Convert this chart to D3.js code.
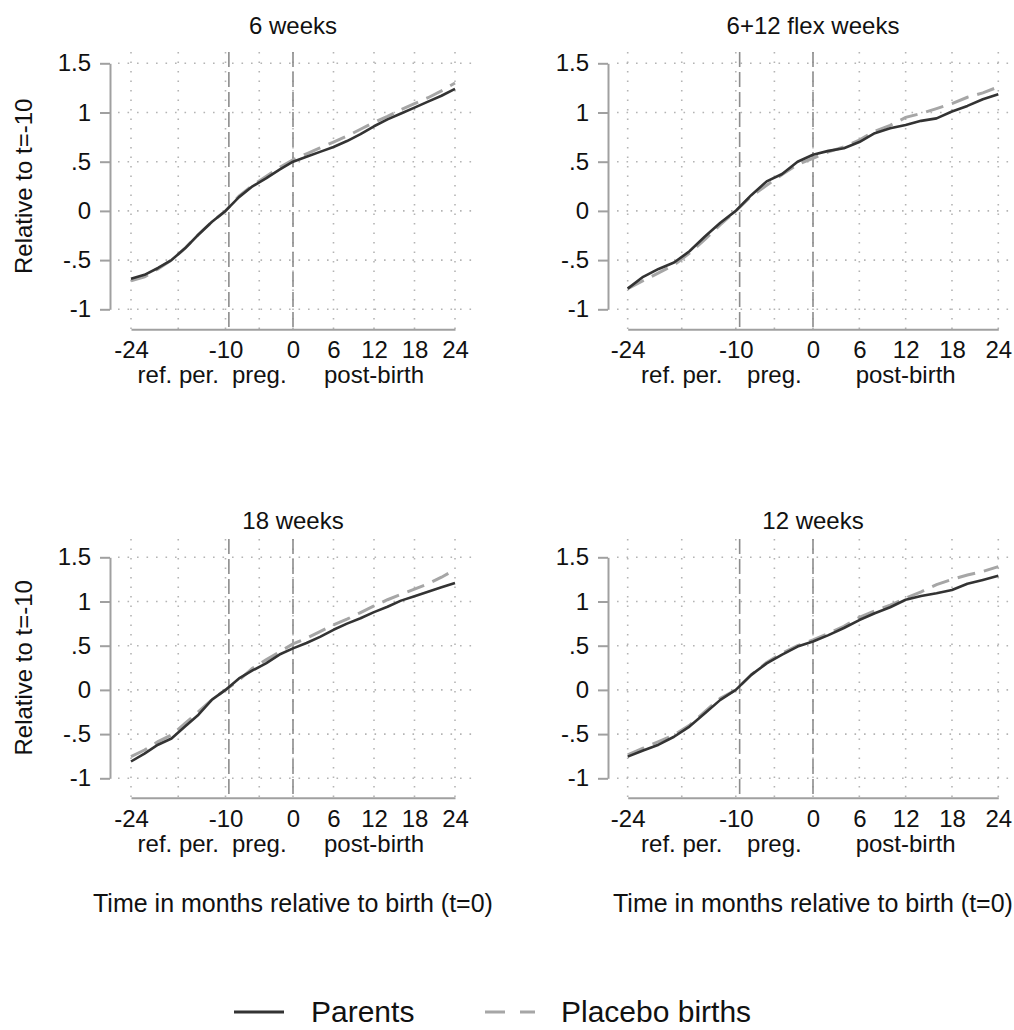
<!DOCTYPE html>
<html>
<head>
<meta charset="utf-8">
<script src="https://cdn.jsdelivr.net/npm/d3@7"></script>
<style>
  body { margin: 0; background: #fff; }
  svg { display: block; font-family: "Liberation Sans", Arial, sans-serif; }
</style>
</head>
<body>
<svg id="chart" width="1014" height="1030"></svg>
<script>
var months = [-24, -22, -20, -18, -16, -14, -12, -10, -8, -6, -4, -2, 0, 2, 4, 6, 8, 10, 12, 14, 16, 18, 20, 22, 24];

var titles = ["6 weeks", "6+12 flex weeks", "18 weeks", "12 weeks"];

// solid dark line
var parents6 = [-0.69, -0.65, -0.58, -0.50, -0.38, -0.24, -0.11, 0, 0.14, 0.25, 0.33, 0.42, 0.50, 0.55, 0.60, 0.65, 0.71, 0.78, 0.86, 0.93, 0.99, 1.05, 1.11, 1.17, 1.24];
var parentsFlex = [-0.79, -0.67, -0.59, -0.525, -0.41, -0.26, -0.12, 0, 0.16, 0.30, 0.375, 0.50, 0.57, 0.61, 0.637, 0.70, 0.79, 0.84, 0.874, 0.915, 0.94, 1.01, 1.067, 1.135, 1.186];
var parents18 = [-0.81, -0.72, -0.62, -0.55, -0.415, -0.28, -0.11, 0, 0.13, 0.22, 0.30, 0.40, 0.47, 0.53, 0.60, 0.68, 0.75, 0.81, 0.88, 0.94, 1.01, 1.06, 1.11, 1.16, 1.21];
var parents12 = [-0.755, -0.686, -0.62, -0.53, -0.415, -0.264, -0.113, 0, 0.17, 0.30, 0.40, 0.49, 0.547, 0.62, 0.70, 0.79, 0.867, 0.935, 1.02, 1.063, 1.094, 1.13, 1.20, 1.244, 1.29];

// dashed light line
var placebo6 = [-0.71, -0.67, -0.59, -0.50, -0.38, -0.24, -0.11, 0, 0.15, 0.26, 0.35, 0.44, 0.52, 0.58, 0.64, 0.70, 0.76, 0.83, 0.90, 0.96, 1.03, 1.09, 1.15, 1.22, 1.30];
var placeboFlex = [-0.79, -0.71, -0.63, -0.55, -0.43, -0.29, -0.14, 0, 0.15, 0.26, 0.37, 0.47, 0.535, 0.60, 0.65, 0.72, 0.81, 0.87, 0.95, 0.99, 1.04, 1.09, 1.155, 1.20, 1.26];
var placebo18 = [-0.755, -0.68, -0.585, -0.51, -0.38, -0.245, -0.11, 0, 0.11, 0.245, 0.34, 0.43, 0.52, 0.585, 0.66, 0.735, 0.80, 0.875, 0.95, 1.02, 1.08, 1.14, 1.20, 1.275, 1.36];
var placebo12 = [-0.735, -0.66, -0.585, -0.51, -0.40, -0.245, -0.094, 0, 0.17, 0.31, 0.415, 0.50, 0.565, 0.64, 0.72, 0.82, 0.894, 0.96, 1.037, 1.11, 1.19, 1.25, 1.30, 1.34, 1.395];

var parentsAll = [parents6, parentsFlex, parents18, parents12];
var placeboAll = [placebo6, placeboFlex, placebo18, placebo12];

var yTicks = [1.5, 1, 0.5, 0, -0.5, -1];
var yTickLabels = ["1.5", "1", ".5", "0", "-.5", "-1"];
var xTicks = [-24, -10, 0, 6, 12, 18, 24];
var xTickLabels = ["-24", "-10", "0", "6", "12", "18", "24"];
var xGrid = [-24, -17, -10, -5, 0, 6, 12, 18, 24];
var periodPos = [-17, -5, 12];
var periodLabels = ["ref. per.", "preg.", "post-birth"];
var eventLines = [-9.5, 0];

var seriesNames = ["Parents", "Placebo births"];

// panel geometry (pixels)
var layout = [
  {ax: 110, x0: 131, x1: 455, yTop: 63.3, yBot: 309.3, axisY: 329.3, gl: 118, gr: 475, gt: 52, titleY: 34, left: true, bottom: false},
  {ax: 608, x0: 627.7, x1: 998.3, yTop: 63.3, yBot: 309.3, axisY: 329.3, gl: 617, gr: 1010, gt: 52, titleY: 34, left: false, bottom: false},
  {ax: 110, x0: 131, x1: 455, yTop: 557.3, yBot: 778.3, axisY: 797.7, gl: 118, gr: 475, gt: 539, titleY: 529, left: true, bottom: true},
  {ax: 608, x0: 627.7, x1: 998.3, yTop: 557.3, yBot: 778.3, axisY: 797.7, gl: 617, gr: 1010, gt: 539, titleY: 529, left: false, bottom: true}
];

var svg = d3.select("#chart");
var darkCol = "#333333", lightCol = "#a6a6a6", axisCol = "#a0a0a0", gridCol = "#b4b4b4";
var fs = 24;

layout.forEach(function(L, i) {
  var x = d3.scaleLinear().domain([-24, 24]).range([L.x0, L.x1]);
  var y = d3.scaleLinear().domain([1.5, -1]).range([L.yTop, L.yBot]);
  var g = svg.append("g");

  // dotted grid
  g.selectAll(".hg").data(yTicks).enter().append("line")
    .attr("x1", L.gl).attr("x2", L.gr)
    .attr("y1", function(d) { return y(d); }).attr("y2", function(d) { return y(d); })
    .attr("stroke", gridCol).attr("stroke-width", 1.6).attr("stroke-dasharray", "1.6,7.9");
  g.selectAll(".vg").data(xGrid).enter().append("line")
    .attr("x1", function(d) { return x(d); }).attr("x2", function(d) { return x(d); })
    .attr("y1", L.gt).attr("y2", L.axisY)
    .attr("stroke", gridCol).attr("stroke-width", 1.6).attr("stroke-dasharray", "1.6,7.9");

  // pregnancy start / birth markers
  g.selectAll(".ev").data(eventLines).enter().append("line")
    .attr("x1", function(d) { return x(d); }).attr("x2", function(d) { return x(d); })
    .attr("y1", L.gt).attr("y2", L.axisY)
    .attr("stroke", "#8c8c8c").attr("stroke-width", 1.6).attr("stroke-dasharray", "15,5");

  // y axis
  var yAxis = d3.axisLeft(y).tickValues(yTicks)
    .tickFormat(function(d, k) { return yTickLabels[k]; })
    .tickSize(10).tickSizeOuter(0).tickPadding(9);
  var ya = g.append("g").attr("transform", "translate(" + L.ax + ",0)").call(yAxis);
  ya.select(".domain").attr("stroke", axisCol).attr("stroke-width", 2);
  ya.selectAll(".tick line").attr("stroke", axisCol).attr("stroke-width", 2);
  ya.selectAll("text").attr("font-size", fs).attr("fill", "#111").attr("font-family", null);

  // x axis
  var xAxis = d3.axisBottom(x).tickValues(xTicks)
    .tickFormat(function(d, k) { return xTickLabels[k]; })
    .tickSize(0).tickSizeOuter(0).tickPadding(12);
  var xa = g.append("g").attr("transform", "translate(0," + L.axisY + ")").call(xAxis);
  xa.select(".domain").attr("stroke", axisCol).attr("stroke-width", 2);
  xa.selectAll("text").attr("font-size", fs).attr("fill", "#111").attr("font-family", null);

  g.selectAll(".per").data(periodPos).enter().append("text")
    .attr("x", function(d) { return x(d); }).attr("y", L.axisY + 54)
    .attr("text-anchor", "middle").attr("font-size", fs).attr("fill", "#111")
    .text(function(d, k) { return periodLabels[k]; });

  // series
  var line = d3.line()
    .x(function(d, k) { return x(months[k]); })
    .y(function(d) { return y(d); });
  g.append("path").datum(placeboAll[i]).attr("d", line)
    .attr("fill", "none").attr("stroke", lightCol).attr("stroke-width", 3)
    .attr("stroke-dasharray", "18,9");
  g.append("path").datum(parentsAll[i]).attr("d", line)
    .attr("fill", "none").attr("stroke", darkCol).attr("stroke-width", 2.6)
    .attr("stroke-linejoin", "round");

  // title
  g.append("text").attr("x", (L.x0 + L.x1) / 2).attr("y", L.titleY)
    .attr("text-anchor", "middle").attr("font-size", fs).attr("fill", "#111")
    .text(titles[i]);

  if (L.left) {
    g.append("text")
      .attr("transform", "translate(32," + ((L.yTop + L.yBot) / 2) + ") rotate(-90)")
      .attr("text-anchor", "middle").attr("font-size", fs).attr("fill", "#111")
      .text("Relative to t=-10");
  }
  if (L.bottom) {
    g.append("text").attr("x", (L.x0 + L.x1) / 2).attr("y", 912)
      .attr("text-anchor", "middle").attr("font-size", 25).attr("fill", "#111")
      .text("Time in months relative to birth (t=0)");
  }
});

// legend
var leg = svg.append("g");
leg.append("line").attr("x1", 234).attr("x2", 284).attr("y1", 1012).attr("y2", 1012)
  .attr("stroke", darkCol).attr("stroke-width", 3);
leg.append("text").attr("x", 311).attr("y", 1022).attr("font-size", 30).attr("fill", "#111")
  .text(seriesNames[0]);
leg.append("line").attr("x1", 485).attr("x2", 535).attr("y1", 1012).attr("y2", 1012)
  .attr("stroke", lightCol).attr("stroke-width", 3).attr("stroke-dasharray", "20,15");
leg.append("text").attr("x", 561).attr("y", 1022).attr("font-size", 30).attr("fill", "#111")
  .text(seriesNames[1]);
</script>
</body>
</html>
